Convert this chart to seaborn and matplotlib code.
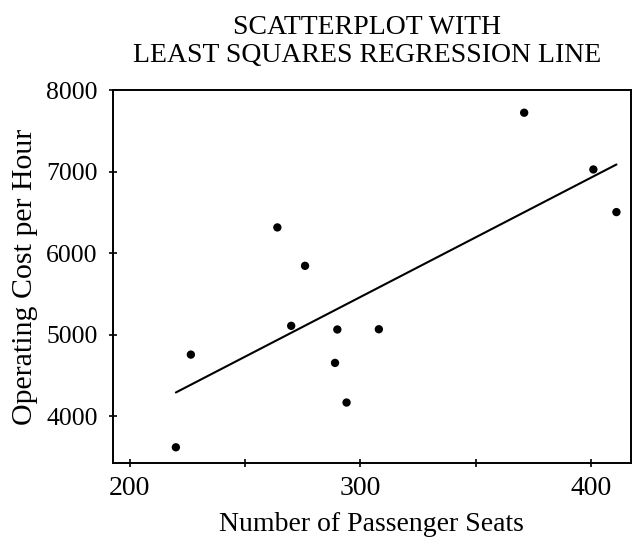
import seaborn as sns
import pandas as pd
import matplotlib
matplotlib.use("Agg")
import matplotlib.pyplot as plt

seats = [371, 401, 411, 264, 276, 270, 290, 308, 289, 294, 226.5, 220]
cost = [7724, 7028, 6505, 6317, 5846, 5110, 5065, 5068, 4655, 4169, 4757, 3620]

xticks = [200, 250, 300, 350, 400]
xticklabels = ["200", "", "300", "", "400"]
yticks = [4000, 5000, 6000, 7000, 8000]

df = pd.DataFrame({"seats": seats, "cost": cost})

sns.set_style("ticks")
plt.rcParams["font.family"] = ["Liberation Serif", "DejaVu Serif"]
plt.rcParams["text.color"] = "black"
plt.rcParams["axes.labelcolor"] = "black"

fig = plt.figure(figsize=(6.32, 5.37), dpi=100)
ax = fig.add_axes([0.179, 0.137, 0.819, 0.695])

sns.regplot(data=df, x="seats", y="cost", ax=ax, ci=None, truncate=True,
            scatter_kws={"s": 36, "color": "black", "edgecolor": "none", "alpha": 1},
            line_kws={"color": "black", "lw": 1.5})

ax.set_xlim(192.8, 417.2)
ax.set_ylim(3422, 8000)
ax.set_xticks(xticks)
ax.set_xticklabels(xticklabels)
ax.set_yticks(yticks)

for s in ax.spines.values():
    s.set_visible(True)
    s.set_linewidth(1.4)
    s.set_color("black")

ax.tick_params(axis="both", direction="inout", length=6, width=1.2,
               colors="black")
ax.tick_params(axis="x", pad=6, labelsize=20)
ax.tick_params(axis="y", pad=8, labelsize=18.5)

ax.set_xlabel("Number of Passenger Seats", fontsize=20, labelpad=8)
ax.set_ylabel("Operating Cost per Hour", fontsize=21.5, labelpad=6)
ax.set_title("SCATTERPLOT WITH\nLEAST SQUARES REGRESSION LINE",
             fontsize=20, pad=20, linespacing=1.18, x=0.49, color="black")

fig.savefig("out.png", dpi=100)
